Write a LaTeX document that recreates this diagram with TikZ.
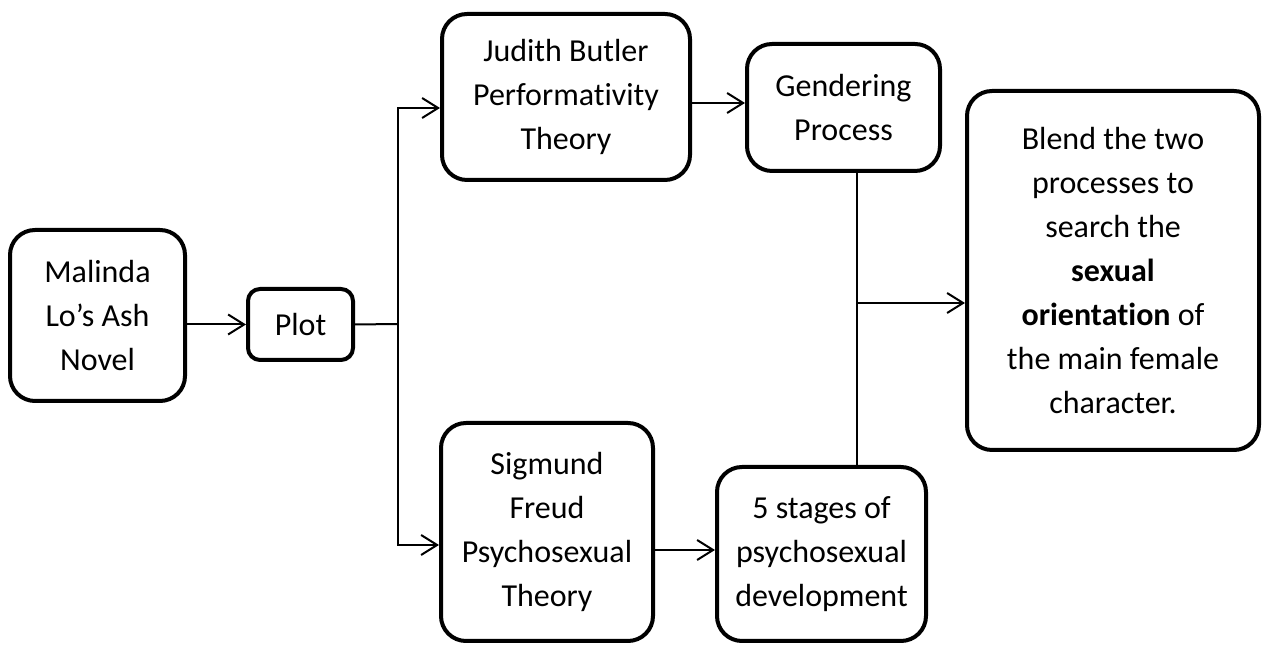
\documentclass[tikz,border=0pt]{standalone}
\usepackage{fontspec}
\setmainfont{Carlito}[Ligatures=NoCommon, RawFeature={-liga;-calt;-clig}]
\usetikzlibrary{arrows.meta}

\begin{document}
\begin{tikzpicture}[x=0.5pt, y=-0.5pt,
        box/.style={draw, line width=2pt, rounded corners=12.5pt, align=center,
            inner sep=0pt, font=\fontsize{16}{22}\selectfont},
        link/.style={line width=1pt},
        >={Straight Barb[length=8pt, width=10pt]}]
    \useasboundingbox (0, 0) rectangle (1266, 656);

    \node[box, minimum width=87.5pt, minimum height=85.5pt] (novel) at (97.5, 315.5) {Malinda \\ Lo’s Ash \\ Novel};
    \node[box, rounded corners=6pt, minimum width=52.5pt, minimum height=35.5pt] (plot) at (300.5, 324.5) {Plot};
    \node[box, minimum width=124pt, minimum height=83pt] (butler) at (566, 97) {Judith Butler \\ Performativity \\ Theory};
    \node[box, minimum width=96.5pt, minimum height=63.5pt] (gender) at (843.5, 107.5) {Gendering \\ Process};
    \node[box, minimum width=106pt, minimum height=109pt] (freud) at (547, 532) {Sigmund \\ Freud \\ Psychosexual \\ Theory};
    \node[box, minimum width=104.5pt, minimum height=87pt] (stages) at (821.5, 554) {5 stages of \\ psychosexual \\ development};
    \node[box, minimum width=146pt, minimum height=179.5pt] (blend) at (1113, 270.5) {Blend the two \\ processes to \\ search the \\ \textbf{sexual} \\ \textbf{orientation} of \\ the main female \\ character.};

    \coordinate (split) at (398, 324);
    \coordinate (merge) at (857, 303);

    \draw[link, ->] (novel.east |- plot.west) -- (plot.west);
    \draw[link] (plot.east) -- (split);
    \draw[link, ->] (split) |- ([yshift=-5.5pt]butler.west);
    \draw[link, ->] (split) |- ([yshift=-6.5pt]freud.west);

    \draw[link, ->] ([yshift=-3pt]butler.east) -- ([yshift=-3pt]butler.east -| gender.west);
    \draw[link, ->] ([yshift=-9pt]freud.east) -- ([yshift=-9pt]freud.east -| stages.west);

    \draw[link] ([xshift=6.5pt]gender.south) -- ([xshift=6.5pt]gender.south |- stages.north);
    \draw[link, ->] (merge) -- (merge -| blend.west);
\end{tikzpicture}
\end{document}
